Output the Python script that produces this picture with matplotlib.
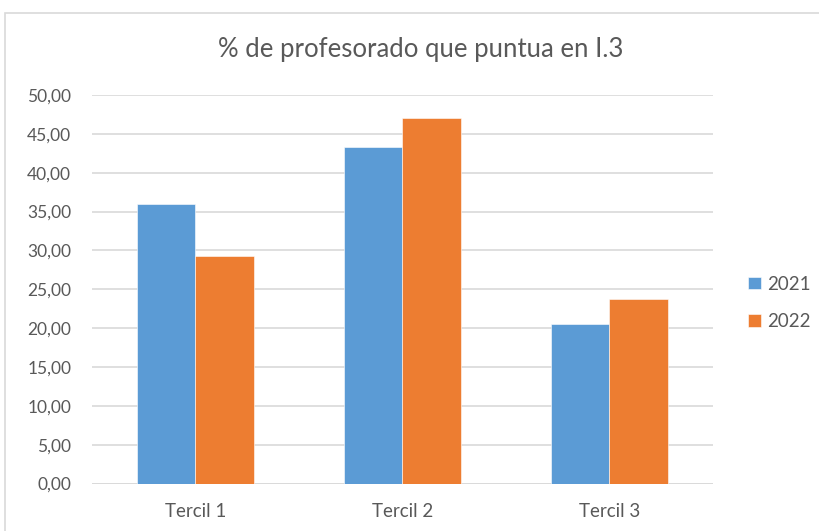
import numpy as np
import matplotlib.pyplot as plt
from matplotlib.patches import Rectangle
from matplotlib.ticker import FuncFormatter

plt.rcParams['font.family'] = ['Lato', 'DejaVu Sans']

categorias = ['Tercil 1', 'Tercil 2', 'Tercil 3']
valores_2021 = [36.0, 43.3, 20.5]
valores_2022 = [29.3, 47.0, 23.7]
series = ['2021', '2022']
colores = ['#5B9BD5', '#ED7D31']

texto = '#595959'
rejilla = '#D9D9D9'

fig = plt.figure(figsize=(8.2, 5.31), dpi=100)
ax = fig.add_axes([92 / 820, 1 - 483.5 / 531, (713 - 92) / 820, (483.5 - 95) / 531])

# marco exterior del gráfico
fig.patches.append(Rectangle((5 / 820, -0.01), 1.0, 1 - 13 / 531 + 0.01,
                             transform=fig.transFigure, fill=False,
                             edgecolor=rejilla, linewidth=1.2))

x = np.arange(len(categorias))
ancho = 0.285
ax.bar(x - ancho / 2, valores_2021, ancho, color=colores[0], label=series[0],
       zorder=3, edgecolor='white', linewidth=0.4)
ax.bar(x + ancho / 2, valores_2022, ancho, color=colores[1], label=series[1],
       zorder=3, edgecolor='white', linewidth=0.4)

ax.set_xlim(-0.5, len(categorias) - 0.5)
ax.set_ylim(0, 50)
ax.set_yticks(np.arange(0, 51, 5))
ax.yaxis.set_major_formatter(FuncFormatter(lambda v, p: f'{v:.2f}'.replace('.', ',')))
ax.set_xticks(x)
ax.set_xticklabels(categorias)

ax.grid(axis='y', color=rejilla, linewidth=1.2, zorder=0)
for s in ax.spines.values():
    s.set_visible(False)
ax.axhline(0, color=rejilla, linewidth=1.2, zorder=2)
ax.tick_params(length=0, colors=texto)
ax.tick_params(axis='y', pad=15, labelsize=12.5)
ax.tick_params(axis='x', pad=14, labelsize=13.5)

fig.text(421 / 820, 1 - 49 / 531, '% de profesorado que puntua en I.3', ha='center',
         va='center', fontsize=18.5, color=texto)

leg = ax.legend(loc='center left', bbox_to_anchor=(1.045, 0.465), frameon=False,
                handlelength=0.65, handleheight=0.65, handletextpad=0.35,
                labelspacing=1.1, fontsize=13.5, borderaxespad=0)
for t in leg.get_texts():
    t.set_color(texto)

fig.savefig('out.png', dpi=100)
